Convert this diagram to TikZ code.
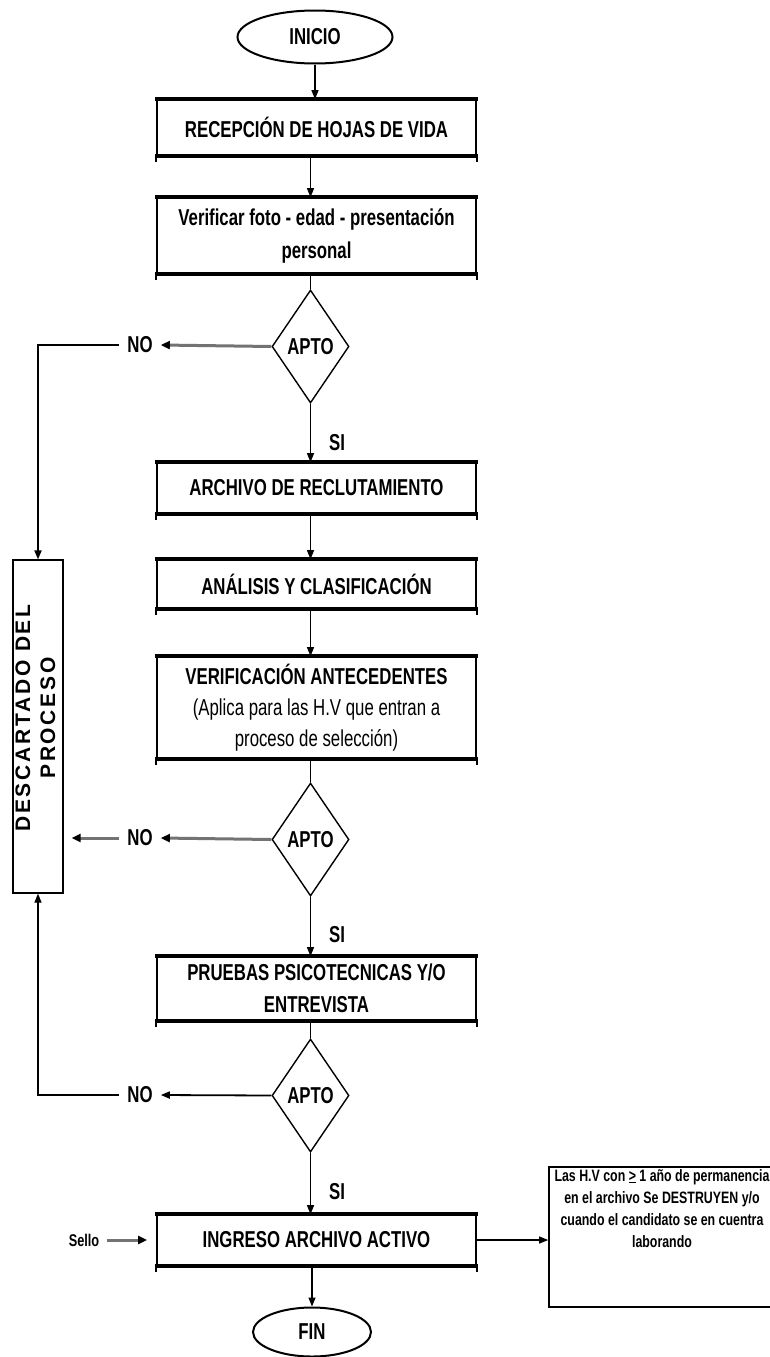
\documentclass[tikz,border=0pt]{standalone}
\usepackage{fontspec}
\setmainfont{Liberation Sans}
\newfontfamily\nf{Liberation Sans}[FakeStretch=0.73]
\newfontfamily\notef{Liberation Sans}[FakeStretch=0.75]
\newfontfamily\lsf{Liberation Sans}[LetterSpace=13]
\usetikzlibrary{shapes.geometric,arrows.meta,calc}
\begin{document}
\begin{tikzpicture}[x=1pt,y=-1pt,
  proc/.style={draw,line width=1.6pt,minimum width=319pt,inner sep=0pt,align=center,font=\nf\bfseries\fontsize{23}{33}\selectfont},
  term/.style={draw,ellipse,line width=2pt,inner sep=0pt,font=\nf\bfseries\fontsize{23}{25}\selectfont},
  dec/.style={draw,diamond,aspect=0.7,line width=1.4pt,inner sep=0pt,minimum width=77pt,minimum height=113pt,font=\nf\bfseries\fontsize{23}{25}\selectfont},
  lbl/.style={font=\nf\bfseries\fontsize{23}{25}\selectfont,inner sep=0pt},
  arr/.style={-{Triangle[length=9pt,width=7pt]},line width=1.2pt},
  ln/.style={line width=1.2pt},
  garr/.style={line width=3pt,draw=black!55,-{Triangle[length=9pt,width=8pt,color=black]}}
]
\fill[white] (0,0) rectangle (770,1357);
\useasboundingbox (0,0) rectangle (770,1357);

% main column
\node[term,minimum width=155pt,minimum height=53pt] (ini) at (315,37) {INICIO};
\node[proc,minimum height=55pt] (b1) at (316.5,127.5) {RECEPCIÓN DE HOJAS DE VIDA};
\node[proc,minimum height=75pt] (b2) at (316.5,235.5) {Verificar foto - edad - presentación\\personal};
\node[dec] (d1) at (310.5,346.5) {APTO};
\node[proc,minimum height=50pt] (b3) at (316.5,488) {ARCHIVO DE RECLUTAMIENTO};
\node[proc,minimum height=48pt] (b4) at (316.5,584) {ANÁLISIS Y CLASIFICACIÓN};
\node[proc,minimum height=101pt,font=\nf\bfseries\fontsize{23}{31}\selectfont] (b5) at (316.5,707.5) {VERIFICACIÓN ANTECEDENTES\\{\mdseries (Aplica para las H.V que entran a}\\{\mdseries proceso de selección)}};
\node[dec] (d2) at (310.5,839.5) {APTO};
\node[proc,minimum height=63pt,font=\nf\bfseries\fontsize{23}{32}\selectfont] (b6) at (316.5,988.5) {PRUEBAS PSICOTECNICAS Y/O\\ENTREVISTA};
\node[dec] (d3) at (310.5,1095.5) {APTO};
\node[proc,minimum height=50pt] (b7) at (316.5,1240) {INGRESO ARCHIVO ACTIVO};
\node[term,minimum width=118pt,minimum height=49pt] (fin) at (312,1332) {FIN};

% thick top/bottom rules of process boxes
\foreach \b in {b1,b2,b3,b4,b5,b6,b7}{
  \draw[line width=4pt] ([xshift=-1pt]\b.north west) -- ([xshift=1pt]\b.north east);
  \draw[line width=4pt] ([xshift=-1pt]\b.south west) -- ([xshift=1pt]\b.south east);
  \draw[line width=1.6pt] (\b.south west) -- ++(0,6);
  \draw[line width=1.6pt] (\b.south east) -- ++(0,6);
}

% discard box
\node[draw,line width=1.2pt,minimum width=50pt,minimum height=333pt,inner sep=0pt] (disc) at (38,726.5) {};
\node[rotate=90,align=center,font=\lsf\bfseries\fontsize{21}{25}\selectfont,inner sep=0pt] (disct) at (35.5,718) {DESCARTADO DEL\\PROCESO};

% note box
\node[draw,line width=1.6pt,minimum width=223pt,minimum height=140pt,inner sep=0pt] (note) at (660.5,1237) {};
\node[align=center,anchor=north,inner sep=0pt,font=\notef\bfseries\fontsize{16.5}{22}\selectfont] (notet) at (662,1169) {Las H.V con \underline{>} 1 año de permanencia\\en el archivo Se DESTRUYEN y/o\\cuando el candidato se en cuentra\\laborando};

% labels
\node[lbl,inner xsep=8pt] (no1) at (140,345) {NO};
\node[lbl,inner xsep=8pt] (no2) at (140,838) {NO};
\node[lbl,inner xsep=8pt] (no3) at (140,1095) {NO};
\node[lbl,anchor=west] (si1) at (329,443) {SI};
\node[lbl,anchor=west] (si2) at (329,935) {SI};
\node[lbl,anchor=west] (si3) at (329,1192) {SI};
\node[font=\notef\bfseries\fontsize{17}{18}\selectfont,inner sep=0pt] (sello) at (84,1240) {Sello};

% connectors
\draw[arr] (ini.south) -- (b1.north -| ini.south);
\draw[arr] (b1.south -| d1) -- (b2.north -| d1);
\draw[ln] (b2.south -| d1) -- (d1.north);
\draw[arr] (d1.south) -- (b3.north -| d1);
\draw[arr] (b3.south -| d1) -- (b4.north -| d1);
\draw[arr] (b4.south -| d1) -- (b5.north -| d1);
\draw[ln] (b5.south -| d2) -- (d2.north);
\draw[arr] (d2.south) -- (b6.north -| d2);
\draw[ln] (b6.south -| d3) -- (d3.north);
\draw[arr] (d3.south) -- (b7.north -| d3);
\draw[arr] (b7.south -| fin) -- (fin.north);

\draw[garr] (d1.west) -- (no1.east);
\draw[arr,line width=1.8pt] (no1.west) -| (disc.north);
\draw[garr] (d2.west) -- (no2.east);
\draw[garr] (no2.west) -- ([xshift=8pt]no2.west -| disc.east);
\draw[arr,line width=1.8pt] (d3.west) -- (no3.east);
\draw[arr] (no3.west) -| (disc.south);

\draw[garr] ([xshift=8pt]sello.east) -- ([xshift=-9pt]b7.west);
\draw[arr] (b7.east) -- (b7.east -| note.west);
\end{tikzpicture}
\end{document}
